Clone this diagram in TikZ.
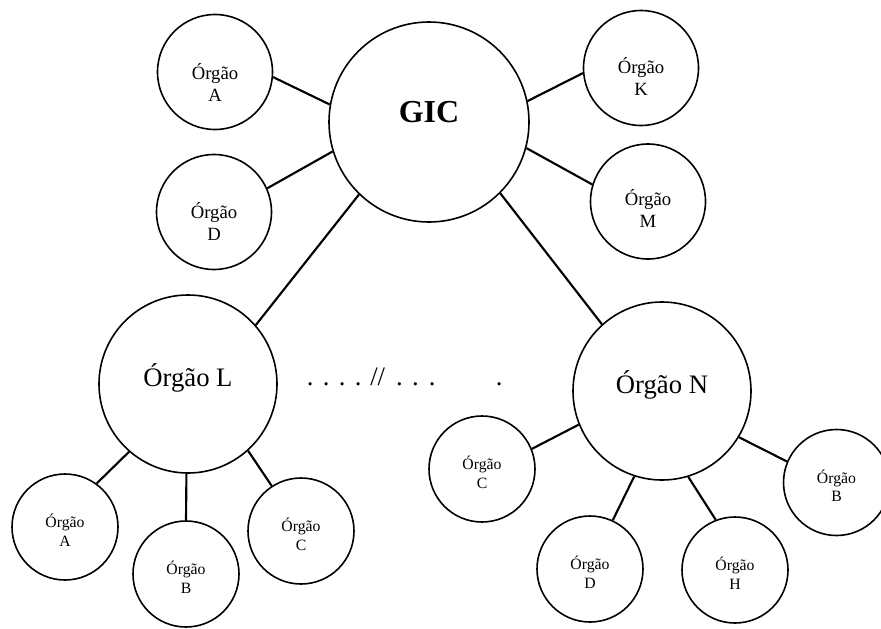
\documentclass[tikz,border=0pt]{standalone}
\usepackage{fontspec}
\setmainfont{Liberation Serif}
\begin{document}
\begin{tikzpicture}[x=0.75pt,y=-0.75pt,
  org/.style={circle, draw, line width=1.2pt, inner sep=0pt, minimum size=#1},
  bigtxt/.style={font=\fontsize{20}{24}\selectfont, inner sep=0pt},
  gictxt/.style={font=\fontsize{24}{28}\selectfont\bfseries, inner sep=0pt},
  midtxt/.style={font=\fontsize{14}{16.5}\selectfont, align=center, inner sep=0pt},
  smalltxt/.style={font=\fontsize{11.8}{14}\selectfont, align=center, inner sep=0pt},
  link/.style={line width=1.6pt}]
\useasboundingbox (0,0) rectangle (881,628);
\clip (0,0) rectangle (881,628);

% central node
\node[org=150pt, label={[gictxt,yshift=7.5pt]center:GIC}] (gic) at (429,122) {};

% top satellites
\node[org=86.25pt, label={[midtxt,yshift=-8pt]center:{Órgão\\A}}] (ta) at (215,72) {};
\node[org=86.25pt, label={[midtxt,yshift=-7pt]center:{Órgão\\D}}] (td) at (214,212) {};
\node[org=86.25pt, label={[midtxt,yshift=-6pt]center:{Órgão\\K}}] (tk) at (641,68) {};
\node[org=86.25pt, label={[midtxt,yshift=-5pt]center:{Órgão\\M}}] (tm) at (648,201.5) {};

% second level
\node[org=133.5pt, label={[bigtxt,yshift=4.5pt]center:Órgão L}] (ol) at (188,384) {};
\node[org=133.5pt, label={[bigtxt,yshift=4.5pt]center:Órgão N}] (on) at (662,391) {};

% children of L
\node[org=79.5pt, label={[smalltxt,yshift=-2.5pt]center:{Órgão\\A}}] (la) at (65,527) {};
\node[org=79.5pt, label={[smalltxt,yshift=-2.5pt]center:{Órgão\\B}}] (lb) at (186,574) {};
\node[org=79.5pt, label={[smalltxt,yshift=-2.5pt]center:{Órgão\\C}}] (lc) at (301,531) {};

% children of N
\node[org=79.5pt, label={[smalltxt,yshift=-2.5pt]center:{Órgão\\C}}] (nc) at (482,469) {};
\node[org=79.5pt, label={[smalltxt,yshift=-2.5pt]center:{Órgão\\D}}] (nd) at (590,569) {};
\node[org=79.5pt, label={[smalltxt,yshift=-2.5pt]center:{Órgão\\H}}] (nh) at (735,570) {};
\node[org=79.5pt, label={[smalltxt,yshift=-2.5pt]center:{Órgão\\B}}] (nb) at (836.5,482.5) {};

% dotted ellipsis text
\node[bigtxt, anchor=base west] (dots) at (306.7,385)
  {.\hspace{7pt}.\hspace{7pt}.\hspace{7pt}.\hspace{6.5pt}//\hspace{8.2pt}.\hspace{7pt}.\hspace{7.7pt}.\hspace{45.2pt}.};

% connectors
\draw[link] (gic.170.7) -- (ta.-5);
\draw[link] (gic.197) -- (td.24);
\draw[link] (gic.12) -- (tk.185);
\draw[link] (gic.-15) -- (tm.163);
\draw[link] (gic.226) -- (ol.41.4);
\draw[link] (gic.-45.4) -- (on.132.3);
\draw[link] (ol.-131) -- (la.54);
\draw[link] (ol.-91.3) -- (lb.90);
\draw[link] (ol.-48.6) -- (lc.123);
\draw[link] (on.202.5) -- (nc.22.8);
\draw[link] (on.-108.8) -- (nd.65.8);
\draw[link] (on.-73.8) -- (nh.111.4);
\draw[link] (on.-31.7) -- (nb.157.8);
\end{tikzpicture}
\end{document}
